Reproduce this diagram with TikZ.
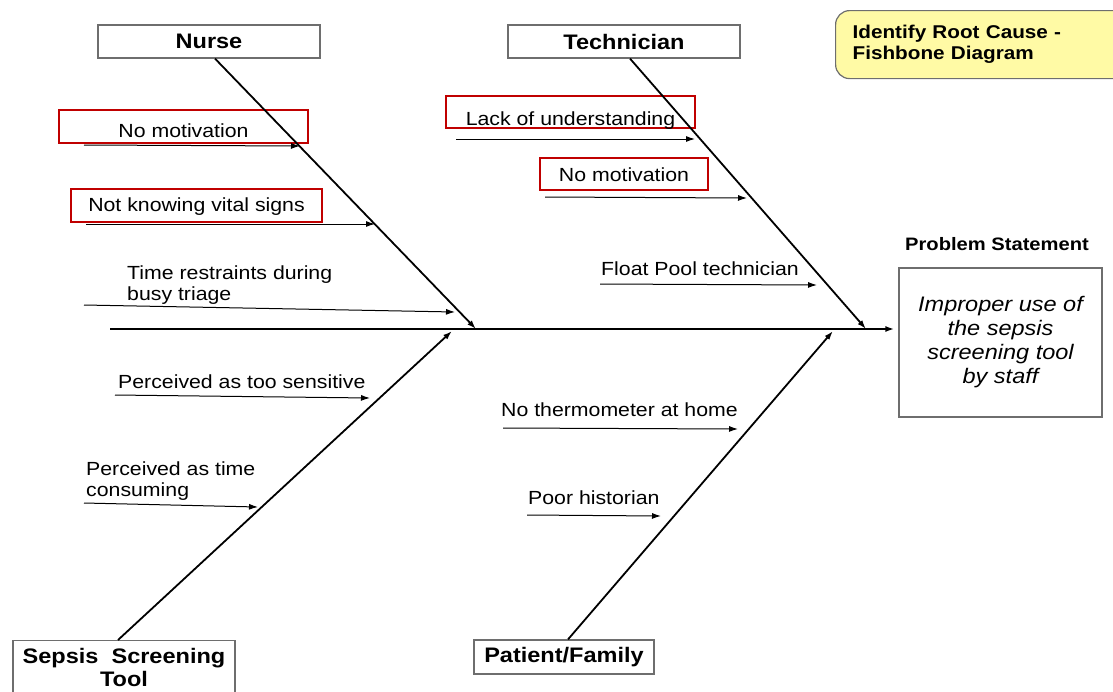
\documentclass[tikz,border=0pt]{standalone}
\usepackage{fontspec}
\setmainfont{Liberation Sans}[FakeStretch=1.12]
\usetikzlibrary{arrows.meta}
\definecolor{boxred}{RGB}{192,0,0}
\definecolor{notefill}{RGB}{255,250,165}
\definecolor{boxgray}{RGB}{110,110,110}
\tikzset{
  catbox/.style = {draw=boxgray, line width=1.2pt, inner sep=0pt,
    font=\fontsize{21}{23}\selectfont\bfseries},
  causebox/.style = {draw=boxred, line width=2.8pt, inner sep=0pt,
    font=\fontsize{19}{21}\selectfont},
  cause/.style = {anchor=west, align=left, inner sep=0pt,
    font=\fontsize{19}{21}\selectfont},
  bone/.style = {line width=1.8pt, -{Latex[length=9pt,width=6pt]}},
  twig/.style = {line width=1pt, -{Latex[length=9pt,width=6pt]}}
}
\begin{document}
\begin{tikzpicture}[x=1pt, y=-1pt]
\useasboundingbox (0,0) rectangle (1113,691);
% categories
\node[catbox, minimum width=222pt, minimum height=33pt] (nurse) at (209,41.5) {Nurse};
\node[catbox, minimum width=232pt, minimum height=33pt] (tech) at (624,41.5) {Technician};
\node[catbox, anchor=north, minimum width=222pt, minimum height=54pt, align=center]
  (tool) at (124,640) {Sepsis\ \ Screening\\Tool};
\node[catbox, minimum width=180pt, minimum height=34pt] (patient) at (564,657) {Patient/Family};
% head
\node[draw=boxgray, line width=1.2pt, minimum width=203pt, minimum height=149pt, align=center,
  font=\fontsize{21}{24}\selectfont\itshape] (problem) at (1000.5,342.5)
  {Improper use of\\the sepsis\\screening tool\\by staff};
\node[font=\fontsize{18}{20}\selectfont\bfseries] (problemlbl) at (997,244) {Problem Statement};
\node[draw=boxgray, fill=notefill, rounded corners=14pt, line width=1.2pt, anchor=north west,
  minimum height=68pt, text width=262pt, inner xsep=17pt, align=left,
  font=\fontsize{18.5}{21}\selectfont\bfseries] (title) at (835,10)
  {Identify Root Cause -\\Fishbone Diagram};
% causes
\node[causebox, minimum width=249pt, text height=27.5pt, text depth=5.5pt] (nomot1) at (183.5,126.5) {No motivation};
\node[causebox, minimum width=251pt, text height=22.5pt, text depth=10.5pt] (vital) at (196.5,205.5) {Not knowing vital signs};
\node[cause] (triage) at (127,285.5) {Time restraints during\\busy triage};
\node[causebox, minimum width=249pt, text height=29pt, text depth=3pt] (understand) at (570.5,112) {Lack of understanding};
\node[causebox, minimum width=168pt, text height=23.5pt, text depth=8.5pt] (nomot2) at (624,174) {No motivation};
\node[cause] (float) at (601,269) {Float Pool technician};
\node[cause] (sensitive) at (118,382) {Perceived as too sensitive};
\node[cause] (consuming) at (86,481.5) {Perceived as time\\consuming};
\node[cause] (thermo) at (501,410) {No thermometer at home};
\node[cause] (historian) at (528,498) {Poor historian};
% spine and bones
\coordinate (tail) at (110,329);
\draw[bone] (tail) -- ([xshift=-4pt]tail -| problem.west);
\coordinate (nurseend) at (476,329);
\coordinate (techend) at (866,329);
\coordinate (toolend) at (452,331);
\coordinate (patientend) at (833,331);
\draw[bone] ([xshift=6pt]nurse.south) -- (nurseend);
\draw[bone] ([xshift=6pt]tech.south) -- (techend);
\draw[bone] ([xshift=-6pt]tool.north) -- (toolend);
\draw[bone] ([xshift=4pt]patient.north) -- (patientend);
% twigs
\foreach \n/\xa/\ya/\xb/\yb in {1/84/145/300/146, 2/86/224/375/224, 3/84/305/455/312,
  4/456/139/695/139, 5/545/197/747/198, 6/600/284/817/285, 7/115/395/370/398,
  8/84/503/258/507, 9/503/428/738/429, 10/527/515/661/516}{
  \coordinate (s\n) at (\xa,\ya);
  \coordinate (e\n) at (\xb,\yb);
  \draw[twig] (s\n) -- (e\n);
}
\end{tikzpicture}
\end{document}
